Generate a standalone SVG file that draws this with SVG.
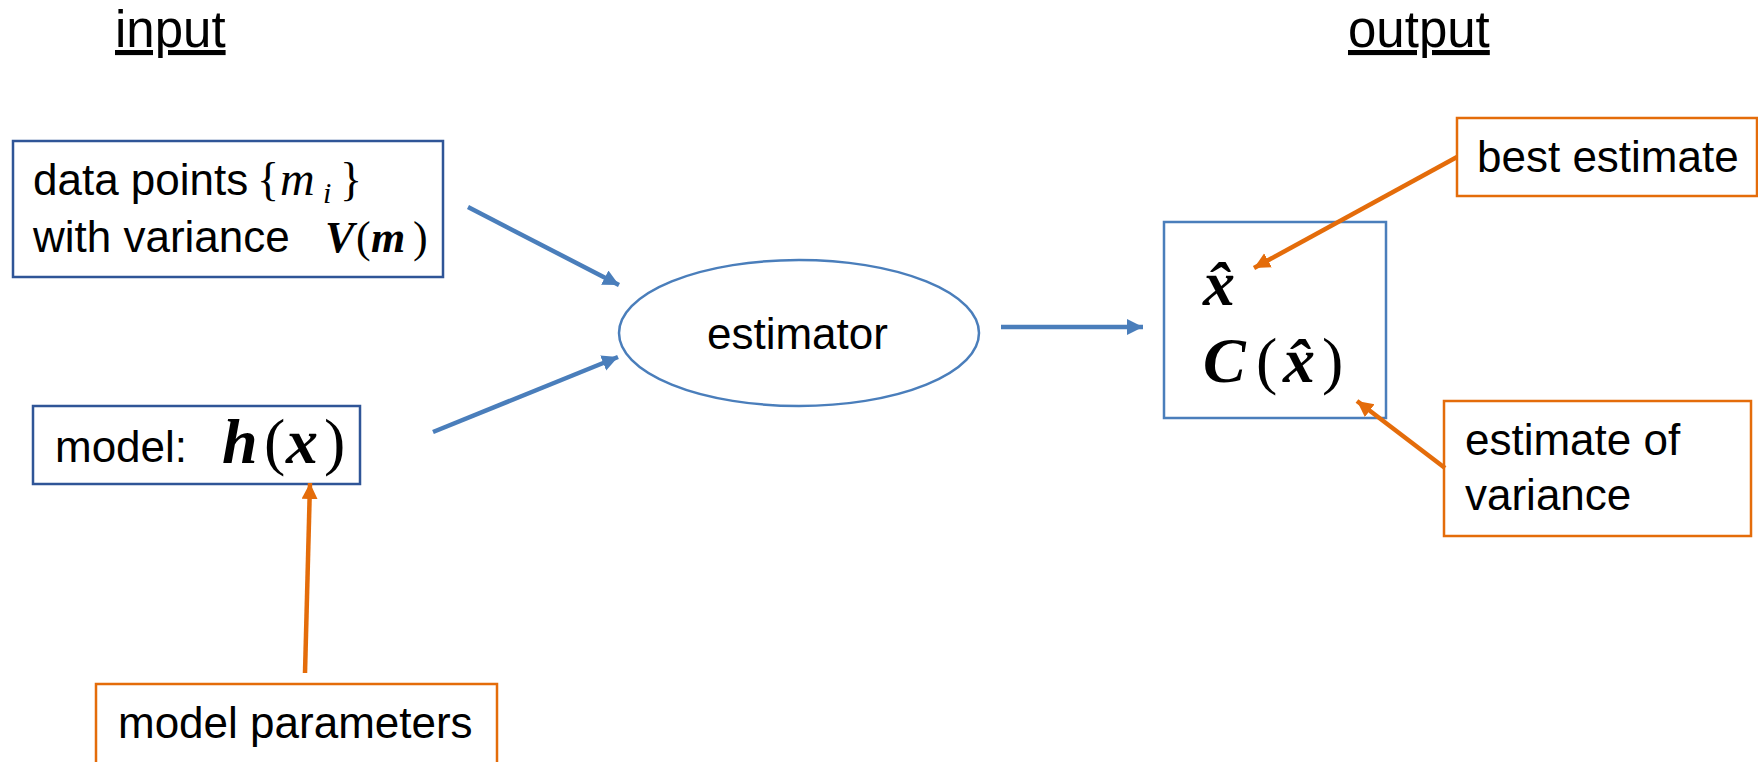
<svg xmlns="http://www.w3.org/2000/svg" width="1758" height="762" viewBox="0 0 1758 762">
<defs>
<style>
.t{font-family:"Liberation Sans",Arial,sans-serif;font-size:44px;fill:#000}
.title{font-family:"Liberation Sans",Arial,sans-serif;font-size:51px;fill:#000;text-decoration:underline}
.m{font-family:"Liberation Serif","Times New Roman",serif;fill:#000}
.bi{font-style:italic;font-weight:bold}
.it{font-style:italic}
.navy{fill:#fff;stroke:#2F5597;stroke-width:2.5}
.blue{fill:#fff;stroke:#4A7EBB;stroke-width:2.5}
.orange{fill:#fff;stroke:#E46C0A;stroke-width:2.5}
.ab{stroke:#4A7EBB;stroke-width:4.5;fill:none;marker-end:url(#hb)}
.ao{stroke:#E46C0A;stroke-width:4.5;fill:none;marker-end:url(#ho)}
</style>
<marker id="hb" markerUnits="userSpaceOnUse" markerWidth="18" markerHeight="18" refX="16" refY="8" orient="auto"><path d="M0,0 L16,8 L0,16 Z" fill="#4A7EBB"/></marker>
<marker id="ho" markerUnits="userSpaceOnUse" markerWidth="18" markerHeight="18" refX="16" refY="8" orient="auto"><path d="M0,0 L16,8 L0,16 Z" fill="#E46C0A"/></marker>
</defs>
<rect width="1758" height="762" fill="#fff"/>

<text class="title" x="115" y="47">input</text>
<text class="title" x="1348" y="47">output</text>

<g id="data">
<rect class="navy" x="13" y="141" width="430" height="136"/>
<text class="t" x="33" y="195">data points</text>
<text class="m" font-size="46" y="195"><tspan x="257">{</tspan><tspan x="280" class="it" font-size="48">m</tspan><tspan x="323" y="203" font-size="30" class="it">i</tspan><tspan x="340" y="195">}</tspan></text>
<text class="t" x="33" y="252">with variance</text>
<text class="m" font-size="44" y="252"><tspan x="325" class="bi">V</tspan><tspan x="356">(</tspan><tspan x="371" class="bi">m</tspan><tspan x="413">)</tspan></text>
</g>

<g id="model">
<rect class="navy" x="33" y="406" width="327" height="78"/>
<text class="t" x="55" y="462">model:</text>
<text class="m" font-size="64" y="463"><tspan x="222" class="bi">h</tspan><tspan x="264">(</tspan><tspan x="286" class="bi">x</tspan><tspan x="324">)</tspan></text>
</g>

<g id="params">
<rect class="orange" x="96" y="684" width="401" height="80"/>
<text class="t" x="118" y="738">model parameters</text>
</g>

<g id="estimator">
<ellipse class="blue" cx="799" cy="333" rx="180" ry="73"/>
<text class="t" x="707" y="349">estimator</text>
</g>

<g id="output">
<rect class="blue" x="1164" y="222" width="222" height="196"/>
<text class="m bi" font-size="64" x="1203" y="305">x̂</text>
<text class="m" font-size="64" y="382"><tspan x="1203" class="bi">C</tspan><tspan x="1256">(</tspan><tspan x="1283" class="bi">x̂</tspan><tspan x="1322">)</tspan></text>
</g>

<g id="best">
<rect class="orange" x="1457" y="118" width="300" height="78"/>
<text class="t" x="1477" y="172">best estimate</text>
</g>

<g id="variance">
<rect class="orange" x="1444" y="401" width="307" height="135"/>
<text class="t" x="1465" y="455">estimate of</text>
<text class="t" x="1465" y="510">variance</text>
</g>

<g id="connectors">
<line class="ab" x1="468" y1="207" x2="619" y2="285"/>
<line class="ab" x1="433" y1="432" x2="618" y2="357"/>
<line class="ab" x1="1001" y1="327" x2="1143" y2="327"/>
<line class="ao" x1="1457" y1="157" x2="1254" y2="268"/>
<line class="ao" x1="1445" y1="468" x2="1357" y2="401"/>
<line class="ao" x1="305" y1="673" x2="310" y2="483"/>
</g>
</svg>
